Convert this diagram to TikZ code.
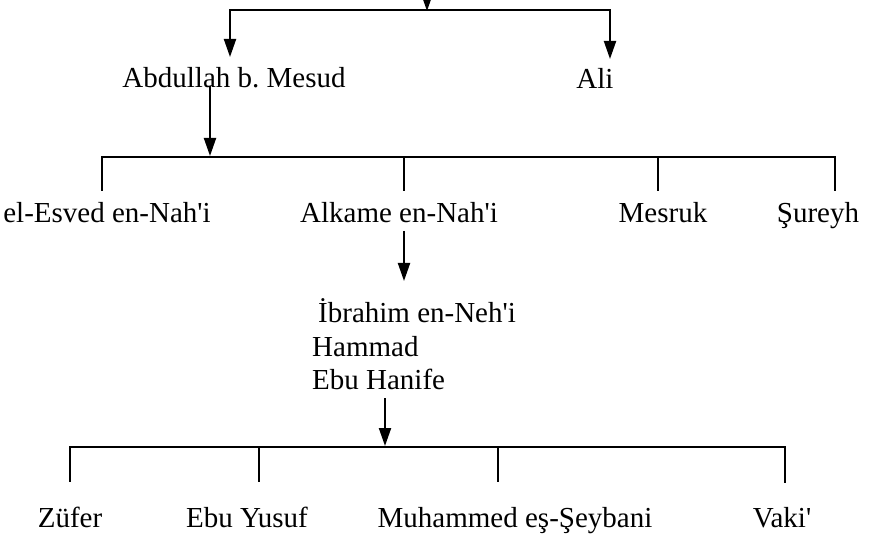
\documentclass[tikz,border=0pt]{standalone}
\usepackage{fontspec}
\setmainfont{Liberation Serif}
\usetikzlibrary{arrows.meta}
\frenchspacing
\begin{document}
\begin{tikzpicture}[x=1pt,y=-1pt,
  lbl/.style={inner sep=0pt, anchor=base, font=\fontsize{29}{33}\selectfont},
  lblw/.style={lbl, anchor=base west},
  ln/.style={line width=2pt, line cap=rect},
  arr/.style={line width=2pt, -{Triangle[length=18pt,width=12pt]}}]
\useasboundingbox (0,0) rectangle (875,534);

% ---- nodes ----
\node[lbl] (abd) at (234,88) {Abdullah b. Mesud};
\node[lbl] (ali) at (595,89) {Ali};
\node[lbl] (esv) at (107,223) {el-Esved en-Nah\textquotesingle i};
\node[lbl] (alk) at (399,223) {Alkame en-Nah\textquotesingle i};
\node[lbl] (mes) at (663,223) {Mesruk};
\node[lbl] (sur) at (818,223) {Şureyh};
\node[lblw] (ibr) at (318,323) {İbrahim en-Neh\textquotesingle i};
\node[lblw] (ham) at (312,356) {Hammad};
\node[lblw] (ebu) at (312,389) {Ebu Hanife};
\node[lbl] (zuf) at (70,527) {Züfer};
\node[lbl] (yus) at (247,527) {Ebu Yusuf};
\node[lbl] (muh) at (515,527) {Muhammed eş-Şeybani};
\node[lbl] (vak) at (782,527) {Vaki\textquotesingle};

% ---- coordinates ----
\coordinate (top) at (427,0);
\coordinate (b1m) at (427,11);
\coordinate (b1l) at (230,10);
\coordinate (b1r) at (610,10);
\coordinate (abdin) at (230,57);
\coordinate (aliin) at (610,59);

\coordinate (abdout) at (210,86);
\coordinate (b2m) at (210,156);
\coordinate (b2l) at (102,157);
\coordinate (b2r) at (835,157);
\coordinate (esvin) at (102,190);
\coordinate (alkin) at (404,190);
\coordinate (mesin) at (658,190);
\coordinate (surin) at (835,190);
\coordinate (b2a) at (404,157);
\coordinate (b2b) at (658,157);

\coordinate (alkout) at (404,231);
\coordinate (ibrin) at (404,281);

\coordinate (ebuout) at (385,398);
\coordinate (b3m) at (385,446);
\coordinate (b3l) at (70,447);
\coordinate (b3r) at (785,447);
\coordinate (b3a) at (259,447);
\coordinate (b3b) at (498,447);
\coordinate (zufin) at (70,481);
\coordinate (yusin) at (259,481);
\coordinate (muhin) at (498,481);
\coordinate (vakin) at (785,482);

% ---- level 1 ----
\draw[arr] (top) -- (b1m);
\draw[ln] (b1l) -- (b1r);
\draw[arr] (b1l) -- (abdin);
\draw[arr] (b1r) -- (aliin);

% ---- level 2 ----
\draw[arr] (abdout) -- (b2m);
\draw[ln] (b2l) -- (b2r);
\draw[ln] (b2l) -- (esvin);
\draw[ln] (b2a) -- (alkin);
\draw[ln] (b2b) -- (mesin);
\draw[ln] (b2r) -- (surin);

% ---- level 3 ----
\draw[arr] (alkout) -- (ibrin);

% ---- level 4 ----
\draw[arr] (ebuout) -- (b3m);
\draw[ln] (b3l) -- (b3r);
\draw[ln] (b3l) -- (zufin);
\draw[ln] (b3a) -- (yusin);
\draw[ln] (b3b) -- (muhin);
\draw[ln] (b3r) -- (vakin);
\end{tikzpicture}
\end{document}
